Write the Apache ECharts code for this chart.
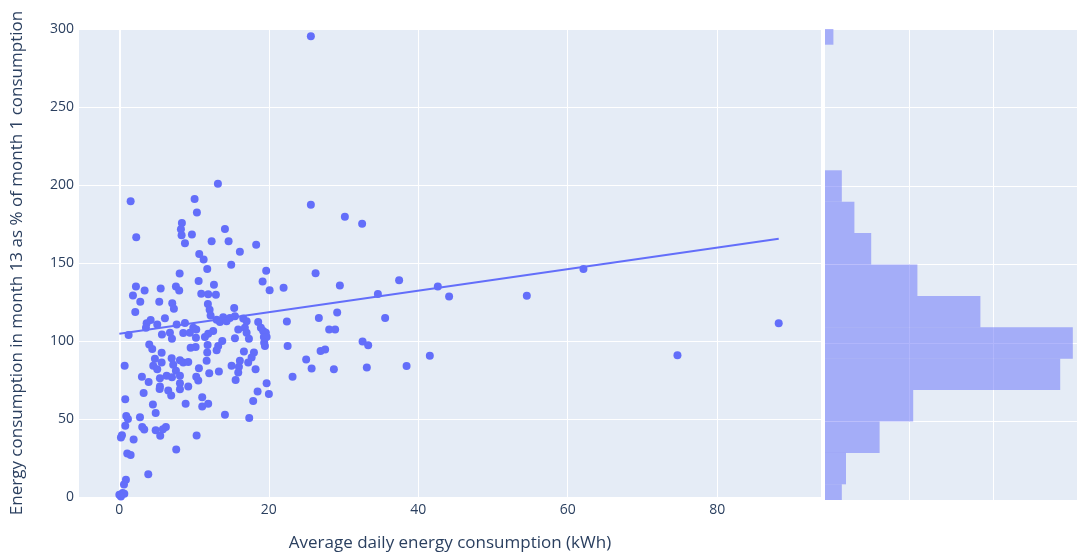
<!DOCTYPE html>
<html>
<head>
<meta charset="utf-8">
<script src="https://cdn.jsdelivr.net/npm/echarts@6/dist/echarts.min.js"></script>
<style>html,body{margin:0;padding:0;background:#fff}#c{width:1077px;height:557px}</style>
</head>
<body>
<div id="c"></div>
<script>
// Average daily energy consumption (kWh)
const avgDaily = [1.51,2.26,13.19,10.07,10.38,8.37,8.24,8.33,8.78,9.71,14.13,12.35,14.62,18.31,16.13,10.69,11.28,14.97,11.76,19.65,8.07,25.63,30.18,32.49,25.63,26.26,29.51,37.44,34.60,42.62,44.13,54.53,62.11,74.69,88.24,19.17,20.11,21.98,10.61,12.66,10.96,11.89,12.92,2.22,3.38,5.53,7.57,8.01,1.82,2.80,5.34,7.08,7.30,2.13,6.10,4.19,3.65,5.07,3.56,1.24,5.70,6.77,7.67,8.78,7.04,8.55,9.44,9.89,4.00,4.40,5.66,4.76,7.00,8.11,8.55,9.54,0.71,4.54,5.66,5.07,7.21,7.57,9.22,6.33,5.43,7.04,8.11,3.02,3.92,5.43,8.11,9.22,11.85,12.08,15.37,12.21,13.02,13.90,14.80,15.47,13.46,14.35,16.58,17.03,18.58,22.42,15.91,16.80,17.03,18.94,19.25,19.61,10.29,10.25,12.56,11.89,11.45,15.47,17.34,19.34,19.71,19.38,19.48,13.77,11.81,10.21,22.52,13.23,13.02,11.76,16.67,18.01,17.70,17.24,16.13,15.02,16.00,11.68,13.32,18.23,10.65,12.03,10.29,15.91,15.56,19.71,23.18,10.56,26.70,29.15,35.57,28.08,28.88,32.55,33.30,26.93,27.54,25.00,25.73,28.71,33.12,38.44,41.55,3.25,0.79,5.39,6.54,6.94,8.11,4.49,4.86,8.87,0.92,1.15,2.76,0.79,3.06,3.33,4.86,5.47,6.23,5.83,0.35,0.21,1.91,7.61,1.06,1.51,3.87,0.88,0.62,0.44,0.00,0.66,0.21,11.09,11.09,11.89,14.13,10.34,17.38,17.91,18.50,20.01];
// Energy consumption in month 13 as % of month 1
const pctMonth13 = [189.6,166.5,200.8,191.1,182.4,175.7,171.6,167.8,162.7,168.2,171.8,164.0,164.0,161.7,157.2,155.7,152.3,148.9,146.2,145.1,143.2,187.3,179.7,175.2,295.4,143.4,135.6,139.0,130.1,135.0,128.6,129.0,146.2,90.8,111.4,138.1,132.6,134.1,138.5,136.0,130.3,129.9,129.6,135.0,132.4,133.7,135.0,132.4,129.2,125.2,125.2,124.2,120.7,118.6,114.6,113.4,111.4,110.6,108.5,103.8,104.2,105.3,110.6,111.6,101.5,105.1,105.3,108.5,97.8,94.9,92.4,88.6,88.9,87.7,86.2,95.7,84.1,84.1,86.2,81.9,84.7,80.9,86.6,77.7,76.2,76.7,77.7,77.1,73.7,70.8,72.9,70.9,123.7,120.1,121.2,116.3,113.7,115.3,114.8,115.9,112.1,112.7,114.4,112.7,112.1,112.5,107.4,108.5,105.3,108.5,106.4,105.3,107.4,102.1,106.4,104.6,102.5,101.7,101.5,102.5,102.5,98.9,96.8,100.0,97.5,96.2,96.8,96.8,94.0,92.6,93.2,92.6,89.4,86.2,87.3,84.1,83.5,87.3,80.5,81.9,82.6,79.4,77.1,79.8,75.0,72.9,77.1,74.6,114.8,118.2,114.8,107.4,107.4,99.6,97.2,93.6,94.5,88.1,82.4,81.9,83.0,83.9,90.5,66.7,62.7,69.2,68.2,65.0,69.0,59.3,53.8,59.7,51.9,50.0,51.2,45.7,44.9,43.2,42.8,39.2,44.9,43.5,39.6,38.1,36.8,30.5,27.9,26.9,14.6,11.0,8.0,2.5,1.5,2.1,0.4,64.0,58.0,59.7,52.7,39.4,50.6,61.6,67.6,66.1];
// OLS trendline end points
const trendX = [0, 88.24];
const trendY = [104.6, 165.5];
// marginal histogram (bins of width 20)
const binLow  = [-10, 10, 30, 50, 70, 90, 110, 130, 150, 170, 190, 290];
const binHigh = [10, 30, 50, 70, 90, 110, 130, 150, 170, 190, 210, 310];
const binCount = [4, 5, 13, 21, 56, 59, 37, 22, 11, 7, 4, 2];
const yTicks = [0, 50, 100, 150, 200, 250, 300];

const FONT = '"Open Sans", "Noto Sans", sans-serif';
const TXT = '#2a3f5f';
const chart = echarts.init(document.getElementById('c'), null, {renderer: 'canvas'});
const scatterData = avgDaily.map((x, i) => [x, pctMonth13[i]]);
const trendData = trendX.map((x, i) => [x, trendY[i]]);
const histData = binLow.map((lo, i) => [lo, binHigh[i], binCount[i]]);

chart.setOption({
  animation: false,
  backgroundColor: '#ffffff',
  textStyle: {fontFamily: FONT, color: TXT},
  grid: [
    {left: 79, top: 29, width: 742, height: 471, show: true, backgroundColor: '#E5ECF6', borderWidth: 0},
    {left: 825, top: 29, right: 0, height: 471, show: true, backgroundColor: '#E5ECF6', borderWidth: 0}
  ],
  xAxis: [
    {type: 'value', gridIndex: 0, min: -5.4, max: 93.9, splitNumber: 5,
     axisLine: {show: false}, axisTick: {show: false},
     axisLabel: {color: TXT, fontSize: 14, fontFamily: FONT, margin: 6, showMinLabel: false, showMaxLabel: false},
     splitLine: {show: true, showMinLine: false, showMaxLine: false, lineStyle: {color: '#ffffff', width: 1}},
     name: 'Average daily energy consumption (kWh)', nameLocation: 'middle', nameGap: 38,
     nameTextStyle: {color: TXT, fontSize: 17, fontFamily: FONT}},
    {type: 'value', gridIndex: 1, min: 0, max: 60, interval: 20,
     axisLine: {show: false}, axisTick: {show: false}, axisLabel: {show: false},
     splitLine: {show: true, showMinLine: false, showMaxLine: false, lineStyle: {color: '#ffffff', width: 1}}}
  ],
  yAxis: [
    {type: 'value', gridIndex: 0, min: yTicks[0], max: yTicks[yTicks.length - 1], interval: 50,
     axisLine: {show: false}, axisTick: {show: false},
     axisLabel: {color: TXT, fontSize: 14, fontFamily: FONT, margin: 5},
     splitLine: {show: true, lineStyle: {color: '#ffffff', width: 1}},
     name: 'Energy consumption in month 13 as % of month 1 consumption', nameLocation: 'middle', nameGap: 53,
     nameTextStyle: {color: TXT, fontSize: 17, fontFamily: FONT}},
    {type: 'value', gridIndex: 1, min: yTicks[0], max: yTicks[yTicks.length - 1], interval: 50,
     axisLine: {show: false}, axisTick: {show: false}, axisLabel: {show: false},
     splitLine: {show: true, lineStyle: {color: '#ffffff', width: 1}}}
  ],
  series: [
    {type: 'scatter', xAxisIndex: 0, yAxisIndex: 0, data: scatterData, symbolSize: 8, z: 3,
     itemStyle: {color: '#636efa', opacity: 1},
     markLine: {silent: true, symbol: 'none', z: 1, label: {show: false},
       lineStyle: {color: '#ffffff', width: 2, type: 'solid'}, data: [{xAxis: 0}]}},
    {type: 'line', xAxisIndex: 0, yAxisIndex: 0, data: trendData, showSymbol: false, z: 4,
     lineStyle: {color: '#636efa', width: 2}, itemStyle: {color: '#636efa'}},
    {type: 'custom', xAxisIndex: 1, yAxisIndex: 1, data: histData, z: 2,
     encode: {x: 2, y: [0, 1]},
     renderItem: function (params, api) {
       const lo = api.value(0), hi = api.value(1), c = api.value(2);
       const p1 = api.coord([0, hi]);
       const p2 = api.coord([c, lo]);
       const cs = params.coordSys;
       const shape = echarts.graphic.clipRectByRect(
         {x: p1[0], y: p1[1], width: p2[0] - p1[0], height: p2[1] - p1[1]},
         {x: cs.x, y: cs.y, width: cs.width, height: cs.height});
       return shape && {type: 'rect', shape: shape, style: {fill: 'rgba(99,110,250,0.5)'}};
     }}
  ]
});
</script>
</body>
</html>
